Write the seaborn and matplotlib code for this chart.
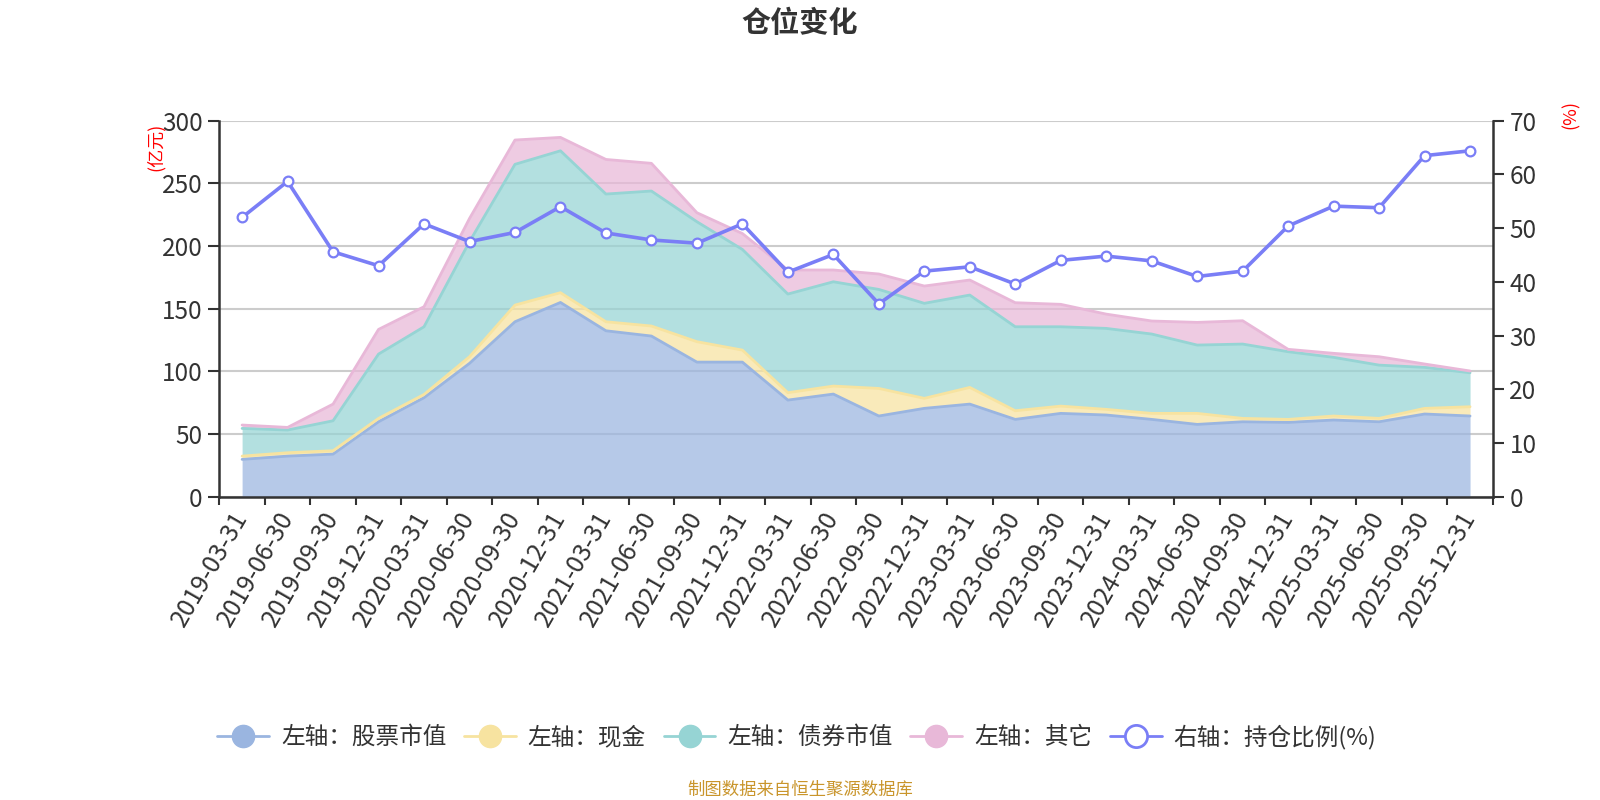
import numpy as np
import matplotlib
matplotlib.use("Agg")
import matplotlib.pyplot as plt
import seaborn as sns
from matplotlib.lines import Line2D

dates = ['2019-03-31', '2019-06-30', '2019-09-30', '2019-12-31',
         '2020-03-31', '2020-06-30', '2020-09-30', '2020-12-31',
         '2021-03-31', '2021-06-30', '2021-09-30', '2021-12-31',
         '2022-03-31', '2022-06-30', '2022-09-30', '2022-12-31',
         '2023-03-31', '2023-06-30', '2023-09-30', '2023-12-31',
         '2024-03-31', '2024-06-30', '2024-09-30', '2024-12-31',
         '2025-03-31', '2025-06-30', '2025-09-30', '2025-12-31']

# 左轴 (亿元)
stock = [29.8, 32.4, 34.0, 59.8, 79.0, 106.4, 139.6, 155.0, 132.4, 128.2, 107.4, 107.4, 77.1, 81.9,
         64.4, 70.5, 73.9, 61.7, 66.5, 65.2, 61.7, 57.7, 59.8, 59.3, 61.2, 59.8, 66.0, 64.4]
cash = [2.6, 2.7, 2.7, 2.7, 2.6, 5.3, 13.3, 7.8, 7.2, 8.0, 16.3, 9.6, 5.9, 6.4,
        22.0, 8.0, 13.3, 6.9, 5.8, 4.5, 4.8, 8.8, 2.7, 2.4, 3.2, 2.7, 4.5, 7.4]
bond = [22.1, 18.1, 23.9, 51.3, 54.0, 91.8, 112.3, 113.2, 101.9, 107.7, 95.7, 80.3, 78.7, 83.2,
        79.0, 75.8, 73.7, 67.0, 63.3, 64.6, 63.3, 54.5, 59.3, 54.0, 46.8, 42.5, 32.7, 27.1]
other = [2.7, 2.1, 13.3, 19.7, 16.0, 18.5, 19.4, 10.7, 27.6, 22.1, 7.2, 12.7, 19.2, 9.4,
         12.3, 13.8, 12.0, 19.2, 17.9, 11.4, 10.4, 18.1, 18.6, 1.9, 3.2, 6.7, 2.7, 1.4]

# 右轴 (%)
ratio = [52.0, 58.7, 45.6, 43.0, 50.8, 47.5, 49.2, 54.0, 49.1, 47.8, 47.2, 50.8, 41.8, 45.1,
         35.9, 42.0, 42.8, 39.6, 44.0, 44.8, 43.9, 41.0, 42.0, 50.4, 54.1, 53.8, 63.5, 64.4]

names = ['左轴：股票市值', '左轴：现金', '左轴：债券市值', '左轴：其它']
colors = ['#9ab5e0', '#f7e3a0', '#96d4d4', '#e8b8d8']
ratio_color = '#7a7ef6'
text_color = '#333333'

sns.set_theme(style='white')
plt.rcParams['font.family'] = ['Noto Sans CJK SC', 'DejaVu Sans']

fig = plt.figure(figsize=(16, 8), dpi=100)
ax = fig.add_axes([0.1371, 0.3791, 0.7959, 0.47])

x = np.arange(len(dates))
layers = np.vstack([stock, cash, bond, other])
tops = np.cumsum(layers, axis=0)
bottoms = np.vstack([np.zeros(len(dates)), tops[:-1]])

for i in range(4):
    ax.fill_between(x, bottoms[i], tops[i], color=colors[i], alpha=0.72, lw=0, zorder=2)
for i in range(4):
    sns.lineplot(x=x, y=tops[i], ax=ax, color=colors[i], lw=2, zorder=3)

ax.set_xlim(-0.5, len(dates) - 0.5)
ax.set_ylim(0, 300)
ax.set_yticks(np.arange(0, 301, 50))
ax.grid(True, axis='y', color='#cccccc', lw=1.5, zorder=0)
ax.set_axisbelow(True)
ax.set_xticks(x)
ax.set_xticklabels(dates, rotation=60, ha='right', va='center', rotation_mode='anchor')
ax.set_xticks(np.arange(-0.5, len(dates), 1), minor=True)
ax.tick_params(axis='x', which='major', length=0, pad=12, labelsize=18, labelcolor=text_color)
ax.tick_params(axis='x', which='minor', length=6, width=1.5, color=text_color, bottom=True)
ax.tick_params(axis='y', length=8, width=1.5, color=text_color, labelsize=17.5,
               labelcolor=text_color, pad=4, left=True)
for s in ['top', 'right']:
    ax.spines[s].set_visible(False)
for s in ['left', 'bottom']:
    ax.spines[s].set_color(text_color)
    ax.spines[s].set_linewidth(1.8)
ax.set_xlabel('')
ax.set_ylabel('')

ax2 = ax.twinx()
sns.lineplot(x=x, y=ratio, ax=ax2, color=ratio_color, lw=2.6, marker='o', markersize=7,
             markerfacecolor='white', markeredgecolor=ratio_color, markeredgewidth=1.6, zorder=5)
ax2.set_ylim(0, 70)
ax2.set_yticks(np.arange(0, 71, 10))
ax2.grid(False)
ax2.tick_params(axis='y', length=8, width=1.5, color=text_color, labelsize=17.5,
                labelcolor=text_color, pad=4, right=True)
for s in ['top', 'left', 'bottom']:
    ax2.spines[s].set_visible(False)
ax2.spines['right'].set_color(text_color)
ax2.spines['right'].set_linewidth(1.8)
ax2.set_ylabel('')

fig.text(0.5, 0.971, '仓位变化', fontsize=21, fontweight='bold', ha='center', va='center',
         color=text_color)
fig.text(0.0975, 0.817, '(亿元)', rotation=90, color='red', fontsize=13, ha='center', va='center')
fig.text(0.982, 0.857, '(%)', rotation=90, color='red', fontsize=13, ha='center', va='center')

handles = [Line2D([], [], color=c, lw=2, marker='o', markersize=16,
                  markerfacecolor=c, markeredgecolor=c) for c in colors]
handles.append(Line2D([], [], color=ratio_color, lw=2, marker='o', markersize=16,
                      markerfacecolor='white', markeredgecolor=ratio_color, markeredgewidth=2))
fig.legend(handles, names + ['右轴：持仓比例(%)'], loc='center', bbox_to_anchor=(0.498, 0.079),
           ncol=5, frameon=False, fontsize=17, handlelength=2.2, columnspacing=0.75,
           handletextpad=0.5, labelcolor=text_color)

fig.text(0.5, 0.0125, '制图数据来自恒生聚源数据库', fontsize=12.5, color='#c9952b',
         ha='center', va='center')

fig.savefig('out.png', dpi=100)
